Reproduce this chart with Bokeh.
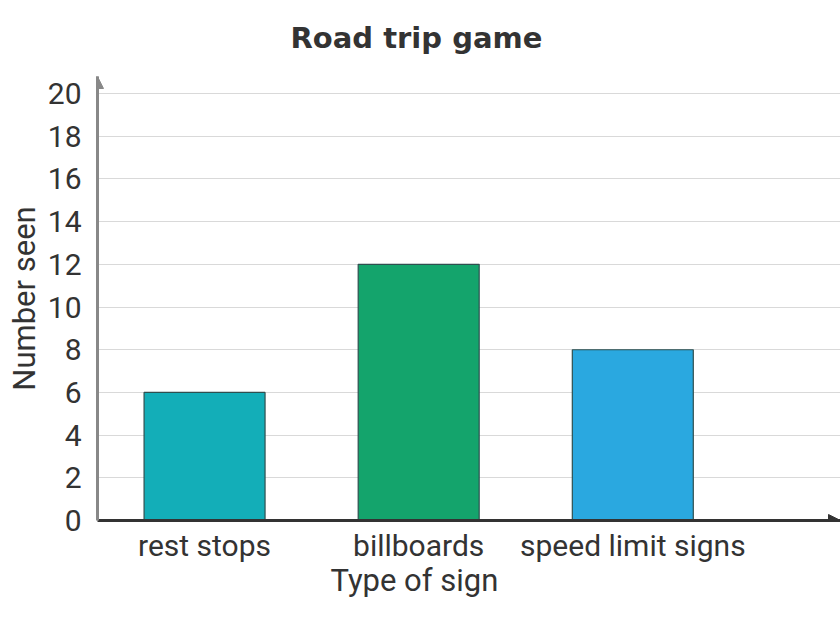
from bokeh.plotting import figure
from bokeh.embed import file_html
from bokeh.resources import INLINE
from bokeh.models import ColumnDataSource, FixedTicker, Range1d, Arrow, NormalHead, Title

title_text = "Road trip game"
x_label = "Type of sign"
y_label = "Number seen"
categories = ["rest stops", "billboards", "speed limit signs"]
counts = [6, 12, 8]
colors = ["#13aeb8", "#14a46c", "#2aa8e0"]
y_ticks = [0, 2, 4, 6, 8, 10, 12, 14, 16, 18, 20]

xs = list(range(len(categories)))
src = ColumnDataSource(dict(x=xs, top=counts, color=colors, name=categories))

p = figure(width=840, output_backend="svg", toolbar_location=None,
           x_range=Range1d(-0.5, 2.97), y_range=Range1d(0, 20.8),
           frame_width=743, frame_height=444,
           min_border_left=97, min_border_right=0, min_border_top=75, min_border_bottom=95,
           title=title_text)
p.outline_line_color = None
p.background_fill_color = "white"
p.border_fill_color = "white"

p.title.text_font = "DejaVu Sans"
p.title.text_font_size = "29px"
p.title.text_font_style = "bold"
p.title.text_color = "#333333"
p.title.align = "left"
p.title.offset = 193
p.title.vertical_align = "top"
p.title.standoff = 40

p.vbar(x="x", top="top", width=0.565, fill_color="color", line_color="#2f4f4f",
       line_width=1.2, source=src)

p.xgrid.grid_line_color = None
p.ygrid.ticker = FixedTicker(ticks=y_ticks)
p.ygrid.grid_line_color = "#d9d9d9"
p.ygrid.grid_line_width = 1.2

p.yaxis.ticker = FixedTicker(ticks=y_ticks)
p.xaxis.ticker = FixedTicker(ticks=xs)
p.xaxis.major_label_overrides = {i: c for i, c in zip(xs, categories)}

for ax in (p.xaxis, p.yaxis):
    ax.major_tick_line_color = None
    ax.minor_tick_line_color = None
    ax.major_label_text_font = "Roboto"
    ax.major_label_text_font_size = "30px"
    ax.major_label_text_color = "#333333"
    ax.axis_label_text_font = "Roboto"
    ax.axis_label_text_font_size = "31px"
    ax.axis_label_text_font_style = "normal"
    ax.axis_label_text_color = "#333333"

p.yaxis.axis_label = y_label
p.xaxis.axis_line_color = "#333333"
p.xaxis.axis_line_width = 3
p.yaxis.axis_line_color = "#888888"
p.yaxis.axis_line_width = 3
p.xaxis.major_label_standoff = 1
p.yaxis.major_label_standoff = 10
p.yaxis.axis_label_standoff = 2

p.add_layout(Title(text=x_label, align="left", offset=233, vertical_align="top", standoff=-8,
                   text_font="Roboto", text_font_size="31px", text_font_style="normal",
                   text_color="#333333"), "below")

p.add_layout(Arrow(end=NormalHead(size=12, fill_color="#888888", line_color="#888888"),
                   x_start=-0.5, y_start=19.5, x_end=-0.5, y_end=20.8,
                   line_color="#888888", line_width=3))
p.add_layout(Arrow(end=NormalHead(size=12, fill_color="#333333", line_color="#333333"),
                   x_start=2.8, y_start=0, x_end=2.97, y_end=0,
                   line_color="#333333", line_width=3))

open("out.html", "w").write(file_html(p, INLINE))
